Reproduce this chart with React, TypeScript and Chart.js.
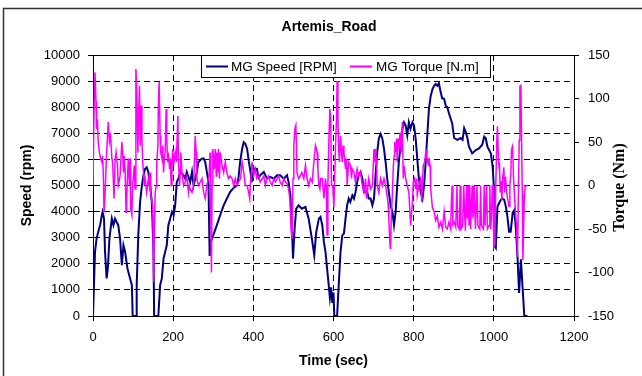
import React, { useEffect, useRef } from 'react';
import { Chart, registerables } from 'chart.js';

Chart.register(...registerables);

const SANS = '"Liberation Sans", Arial, sans-serif';
const SERIF = '"Liberation Serif", "Times New Roman", serif';

const chartTitle = 'Artemis_Road';
const speedLabel = 'MG Speed [RPM]';
const torqueLabel = 'MG Torque [N.m]';
const xTitle = 'Time (sec)';
const yLeftTitle = 'Speed (rpm)';
const yRightTitle = 'Torque (Nm)';

// [time (sec), speed (rpm)]
const speedSamples: number[][] = [
  [0,0],[1,0],[5,2460],[9,2970],[13,3220],[18,3500],[22,3860],[24,3990],[27.5,3730],[30,2460],
  [34,1440],[37,1820],[41,2970],[47,3730],[51,3480],[55,3730],[59,3600],[63,3480],[67.5,2970],[72,1950],
  [76,2710],[80,2460],[86,1820],[92.5,1440],[97,1180],[99,0],[107.5,0],[109,1180],[113,3100],[117.5,4370],
  [122,5000],[126,5390],[130,5640],[134,5700],[138,5520],[142.5,5000],[146.7,4370],[151,2460],[152.5,0],[163,0],
  [167.5,1180],[171.7,1440],[176,2200],[184,2710],[188,3480],[192.5,3730],[197,3990],[201,3860],[205,4240],[209,5130],
  [213,5260],[217.5,5520],[226,5390],[230,5260],[234,5520],[242.5,5130],[247,5520],[251,5000],[259,5520],[263,5900],
  [272,6030],[276,6030],[280,5900],[284,5520],[288,5130],[291,2300],[294,2840],[300,3100],[309,3480],[318,3900],
  [326,4240],[334,4500],[342,4750],[350,4900],[359,5000],[363,5300],[367,5900],[372,6400],[376,6660],[380,6600],
  [384.5,6400],[389,5900],[393,5520],[396,5130],[398,5770],[403,5600],[409,5640],[413,5300],[417,5390],[426,5520],
  [434,5260],[442,5330],[451,5260],[459,5390],[467,5390],[476,5260],[484,5390],[488,5130],[492.5,4610],[496.7,3220],
  [499,2200],[503,3350],[507,4110],[513,4240],[521,4110],[530,4180],[538,3730],[546,2970],[552,2330],[557,3220],
  [563.5,3730],[567.5,3800],[572,3480],[576,2840],[580,2460],[584,1820],[588,1200],[591,700],[594,1100],[597,500],
  [600,900],[602,0],[609,0],[613,1180],[617.5,2460],[622,3100],[626,3160],[630,3730],[634,4240],[638,4500],
  [642,4370],[647,4620],[651,4500],[655,4750],[659,5130],[663,5390],[667.5,5520],[672,5260],[676,4750],[684,4750],
  [688,4500],[692.5,4500],[697,4240],[701,4500],[705,5390],[709,6280],[713,6790],[717.5,6980],[722,6790],[726,6400],
  [730,5900],[734,5260],[738,4750],[742.5,4240],[747,3990],[751,3480],[755,3990],[759,5000],[763,5900],[767.5,6530],
  [772,7170],[776,7420],[780,7300],[784,6920],[788,7420],[792,7170],[797,7420],[801,7300],[805,6790],[809,6030],
  [813,5260],[817.5,4750],[822,4500],[826,5000],[830,5900],[834,6920],[838,7920],[842.5,8430],[847,8690],[851,8820],
  [855,8890],[859,8820],[863,8920],[867.5,8570],[871,8340],[876,8320],[880,8060],[884,8000],[888,7770],[892.5,7550],
  [896,7390],[901,6820],[909,6750],[917.5,6820],[922,6750],[926,7200],[930,7050],[934,6820],[938,6490],[946,6230],
  [955,6360],[963,6420],[971,6560],[976,6870],[980,6800],[984,6490],[992.5,6230],[997,5720],[1001,4710],[1002.5,2660],
  [1005,2600],[1009,4190],[1013,4320],[1017.5,4450],[1021,4500],[1026,4450],[1030,4190],[1034,3800],[1038,3230],[1042,3230],
  [1047,3950],[1051,4060],[1055,3360],[1059,2270],[1063,880],[1067.5,2170],[1072,1020],[1076,0],[1084,0],
];

// [time (sec), torque (N.m)]
const torqueSamples: number[][] = [
  [0,0],[1.5,0],[2.5,84],[5,130],[7.5,96],[9,65],[11,76],[13,50],[16,38],[19,31],
  [22,27],[24,34],[26,8],[27.5,-31],[30,-11],[34,38],[38,73],[41,50],[44,57],[47,31],
  [49,27],[52.5,-15],[55,27],[57.5,38],[61,23],[63,0],[67.5,11],[72,50],[74,38],[76,15],
  [78,34],[80,19],[82.5,-31],[84,-15],[88,31],[91,0],[92.5,31],[94,-27],[97,-34],[99,0],
  [103,23],[105,-4],[107,134],[109,115],[112,38],[114,84],[116,115],[118,46],[120,92],[122,53],
  [124,27],[126,15],[128,0],[130,8],[134,-8],[138,8],[141,0],[142.5,15],[144,-8],[147,-19],
  [149,-23],[151,-111],[153,-61],[155,-8],[158,0],[159,27],[162,46],[163,92],[165,119],[167.5,57],
  [169,38],[172,31],[174,46],[176,15],[178,31],[180,38],[182.5,88],[184,57],[186,27],[188,38],
  [191,19],[193,31],[195,0],[197,27],[199,42],[201,23],[205,38],[208,27],[211.7,80],[213,31],
  [216,0],[218,19],[219,38],[222,15],[226,0],[230,4],[234,11],[238,-8],[240,0],[242.5,-4],
  [247,-8],[251,0],[255,57],[257.5,38],[259,8],[263,0],[267.5,4],[272,8],[276,-8],[280,-15],
  [284,0],[288,8],[290,15],[292,38],[294,-40],[295.5,-100],[297,0],[299,42],[301,31],[302.5,19],
  [305,42],[307.5,11],[309,38],[311.5,15],[313,42],[315.5,8],[317.5,38],[322,23],[326,15],[330,27],
  [334,15],[338,8],[342,11],[347,8],[351,0],[355,8],[359,0],[363,4],[368,8],[372,27],
  [376,15],[380,0],[384.5,0],[388.5,-8],[391,-15],[393,4],[397,23],[401,11],[405,19],[409,8],
  [413,11],[417,4],[422,8],[426,11],[430,0],[434,8],[438,11],[442,4],[447,0],[451,8],
  [455,4],[459,8],[463,11],[467,4],[472,0],[476,8],[480,4],[484,2],[488,-4],[491,-15],
  [494,-50],[496.7,-61],[499,8],[501,46],[503.6,65],[506,69],[508,38],[509,15],[513,8],[517,11],
  [521,15],[526,8],[530,23],[534,8],[538,0],[542.5,8],[547,4],[551,27],[555,46],[557.5,42],
  [559,38],[561,19],[563.5,0],[566,-4],[568,8],[572,8],[576,-15],[580,8],[582,0],[584,-57],
  [586,0],[588.6,54],[591,88],[593,76],[595,0],[598,0],[601,-25],[605,45],[607.5,76],[609,120],
  [611,80],[613,40],[615,27],[617.5,57],[621.7,27],[624,46],[626,38],[630,19],[632.5,31],[634,0],
  [638,27],[642.5,23],[645,8],[646.7,19],[651,15],[655,4],[659,19],[663,11],[667.5,15],[672,0],
  [676,-8],[680,8],[682.5,-15],[686,0],[688,8],[692.5,-4],[697,0],[701,42],[702.5,27],[705,42],
  [707.5,27],[709,0],[713,-8],[717.5,8],[722,0],[726,8],[730,0],[732.5,-8],[736,-19],[738,-38],
  [741,-69],[742.5,-73],[744,-38],[747,-8],[749,19],[751,34],[753,50],[755,38],[757.5,54],[759,27],
  [761.5,54],[763,42],[766,61],[769,38],[771.7,73],[774,8],[776,23],[780,8],[784,0],[788,-8],
  [792.5,-46],[797,-19],[799,4],[802.5,8],[805,-4],[807.5,8],[809,-11],[813,0],[817.5,8],[820,-19],
  [822.5,8],[824,23],[827.5,27],[831,42],[833,31],[836.7,23],[838,32],[841,23],[842.5,-4],[846.7,-25],
  [851,-30],[855,-40],[859,-35],[863,-48],[867.5,-42],[871.7,-50],[876,-30],[880,-48],[884,-50],[888,-42],
  [892.5,-50],[894,-20],[896,0],[898,-45],[901,-42],[905,-48],[908,0],[910,-46],[914,-50],[916,0],
  [918,-50],[922,-47],[925,0],[927,-30],[929,-52],[932,0],[934,-38],[936,0],[938,-46],[940,0],
  [942,-50],[946,0],[948,-38],[951,0],[954,-50],[958,0],[960,-46],[965,-50],[967,0],[969,-46],
  [974,-50],[976,0],[978,-46],[982,0],[984,-50],[988,-46],[990,0],[992,-50],[994,-38],[996,0],
  [998,0],[1000,-70],[1002.5,-67],[1005,3],[1007.5,52],[1009,68],[1011,38],[1013,20],[1014,26],[1016,-8],
  [1018,5],[1020,-17],[1022,8],[1025,21],[1027,-8],[1029,10],[1032.5,-9],[1035,-17],[1038,-24],[1040,0],
  [1042.5,14],[1044,41],[1046.7,45],[1049,10],[1051.7,-13],[1054,-30],[1056.7,-47],[1059,-82],[1061,-20],[1063.3,52],
  [1065,114],[1067.5,115],[1069,60],[1071,-10],[1072.5,-86],[1074,-55],[1076,-15],[1078,-1],[1084,0],
];

const xRange = [0, 1200];
const speedRange = [0, 10000];
const torqueRange = [-150, 150];

const SPEED_COLOR = '#000080';
const TORQUE_COLOR = '#FF00FF';

const plain = (v: any) => String(v);

export default function App() {
  const ref = useRef<HTMLCanvasElement>(null);

  useEffect(() => {
    document.body.style.margin = '0';
    const canvas = ref.current;
    if (!canvas) return;

    const decorPlugin = {
      id: 'decor',
      beforeDatasetsDraw(chart: any) {
        const { ctx, chartArea: a } = chart;
        ctx.save();
        ctx.strokeStyle = '#000';
        ctx.lineWidth = 1;
        ctx.beginPath();
        ctx.moveTo(a.left, Math.round(a.top) + 0.5);
        ctx.lineTo(a.right, Math.round(a.top) + 0.5);
        ctx.stroke();
        ctx.restore();
      },
      afterDraw(chart: any) {
        const { ctx, chartArea: a } = chart;
        ctx.save();
        // legend box
        const lx = 201, ly = 55, lw = 289, lh = 22;
        ctx.fillStyle = '#fff';
        ctx.fillRect(lx, ly, lw, lh);
        ctx.strokeStyle = '#000';
        ctx.lineWidth = 1;
        ctx.strokeRect(lx + 0.5, ly + 0.5, lw, lh);
        const cy = ly + lh / 2 + 0.5;
        ctx.lineWidth = 2;
        ctx.strokeStyle = SPEED_COLOR;
        ctx.beginPath(); ctx.moveTo(206, cy); ctx.lineTo(228, cy); ctx.stroke();
        ctx.strokeStyle = TORQUE_COLOR;
        ctx.beginPath(); ctx.moveTo(350, cy); ctx.lineTo(372, cy); ctx.stroke();
        ctx.fillStyle = '#000';
        ctx.font = `13.5px ${SANS}`;
        ctx.textBaseline = 'middle';
        ctx.textAlign = 'left';
        ctx.fillText(speedLabel, 231, cy + 1);
        ctx.fillText(torqueLabel, 376, cy + 1);
        // right axis title
        ctx.font = `bold 16px ${SERIF}`;
        ctx.textAlign = 'center';
        ctx.translate(620, (a.top + a.bottom) / 2 + 2);
        ctx.rotate(-Math.PI / 2);
        ctx.fillText(yRightTitle, 0, 0);
        ctx.restore();
        // outer frame
        ctx.save();
        ctx.strokeStyle = '#333';
        ctx.lineWidth = 1.5;
        ctx.strokeRect(3.5, 8.5, 800, 500);
        ctx.restore();
      },
    };

    const chart = new Chart(canvas, {
      type: 'line',
      data: {
        datasets: [
          {
            label: speedLabel,
            data: speedSamples.map(([x, y]) => ({ x, y })),
            borderColor: SPEED_COLOR,
            backgroundColor: SPEED_COLOR,
            borderWidth: 2,
            pointRadius: 0,
            tension: 0,
            yAxisID: 'y',
            order: 1,
          },
          {
            label: torqueLabel,
            data: torqueSamples.map(([x, y]) => ({ x, y })),
            borderColor: TORQUE_COLOR,
            backgroundColor: TORQUE_COLOR,
            borderWidth: 1.5,
            pointRadius: 0,
            tension: 0,
            yAxisID: 'y1',
            order: 0,
          },
        ],
      },
      options: {
        responsive: false,
        animation: false,
        events: [],
        layout: { padding: { left: 16, right: 0, top: 0, bottom: 0 } },
        plugins: {
          legend: { display: false },
          tooltip: { enabled: false },
          title: {
            display: true,
            text: chartTitle,
            color: '#000',
            font: { family: SANS, size: 14, weight: 'bold' },
            padding: { top: 18.6, bottom: 19.6 },
          },
        },
        scales: {
          x: {
            type: 'linear',
            min: xRange[0],
            max: xRange[1],
            afterFit: (s: any) => { s.height = 60; },
            ticks: { stepSize: 200, color: '#000', font: { family: SANS, size: 13 }, padding: 9, maxRotation: 0, callback: plain },
            grid: { color: '#000', lineWidth: 1, tickLength: 5, tickColor: '#000' },
            border: { display: true, color: '#000', width: 1, dash: [6, 4] },
            title: {
              display: true,
              text: xTitle,
              color: '#000',
              font: { family: SANS, size: 14, weight: 'bold' },
              padding: { top: 0, bottom: 6 },
            },
          },
          y: {
            type: 'linear',
            position: 'left',
            min: speedRange[0],
            max: speedRange[1],
            afterFit: (s: any) => { s.width = 77; },
            ticks: { stepSize: 1000, color: '#000', font: { family: SANS, size: 13 }, padding: 8, callback: plain },
            grid: { color: '#000', lineWidth: 1, tickLength: 5, tickColor: '#000' },
            border: { display: true, color: '#000', width: 1, dash: [6, 4] },
            title: {
              display: true,
              text: yLeftTitle,
              color: '#000',
              font: { family: SANS, size: 14, weight: 'bold' },
              padding: { top: 2.6, bottom: 0 },
            },
          },
          y1: {
            type: 'linear',
            position: 'right',
            min: torqueRange[0],
            max: torqueRange[1],
            afterFit: (s: any) => { s.width = 68; },
            ticks: { stepSize: 50, color: '#000', font: { family: SANS, size: 13 }, padding: 9, callback: plain },
            grid: { drawOnChartArea: false, tickLength: 5, tickColor: '#000' },
            border: { display: true, color: '#000', width: 1 },
          },
        },
      },
      plugins: [decorPlugin],
    } as any);

    return () => chart.destroy();
  }, []);

  return (
    <div style={{ position: 'fixed', left: 0, top: 0 }}>
      <canvas ref={ref} width={642} height={376} style={{ display: 'block', width: 642, height: 376 }} />
    </div>
  );
}
